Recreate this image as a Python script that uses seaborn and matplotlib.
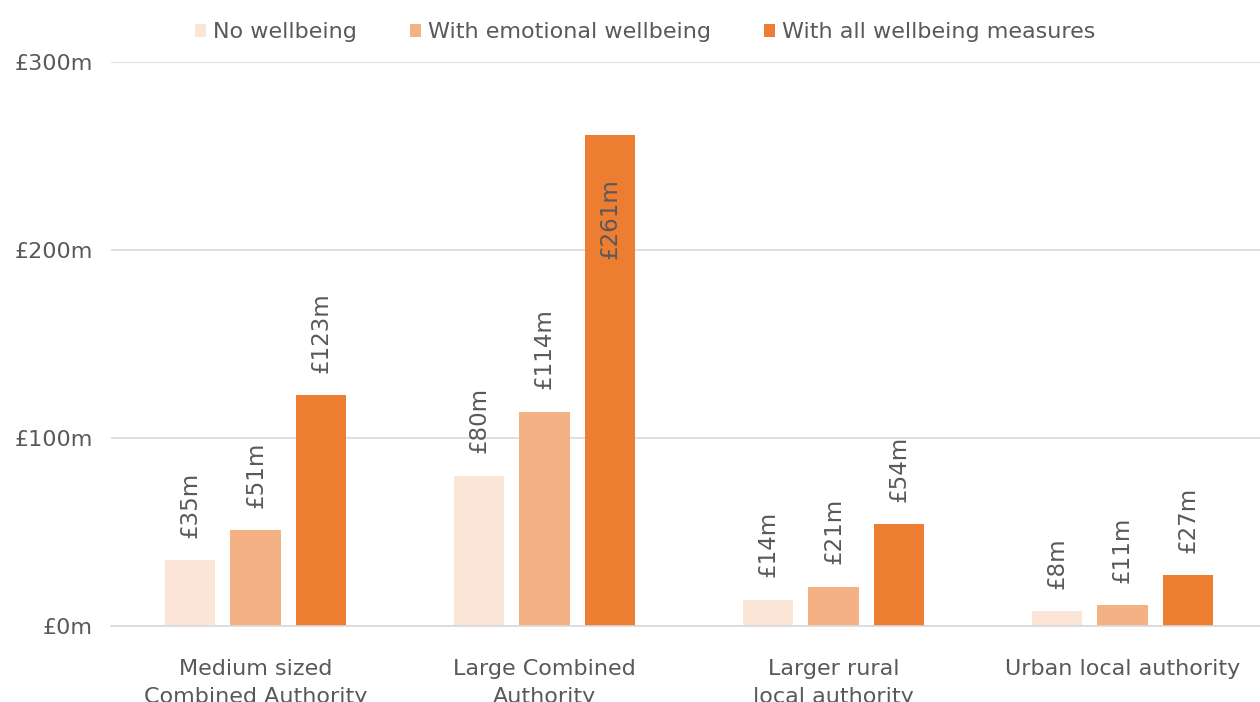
import matplotlib
matplotlib.use("Agg")
import matplotlib.pyplot as plt
import seaborn as sns
import pandas as pd

categories = ["Medium sized\nCombined Authority", "Large Combined\nAuthority",
              "Larger rural\nlocal authority", "Urban local authority"]
series_names = ["No wellbeing", "With emotional wellbeing", "With all wellbeing measures"]
no_wellbeing = [35, 80, 14, 8]
emotional = [51, 114, 21, 11]
all_measures = [123, 261, 54, 27]
colors = ["#FBE5D6", "#F4B183", "#ED7D31"]
y_ticks = [0, 100, 200, 300]
y_ticklabels = ["£0m", "£100m", "£200m", "£300m"]

rows = []
for name, vals in zip(series_names, [no_wellbeing, emotional, all_measures]):
    for c, v in zip(categories, vals):
        rows.append({"category": c, "series": name, "value": v})
df = pd.DataFrame(rows)

sns.set_theme(style="white")
plt.rcParams["font.family"] = ["DejaVu Sans"]
gray = "#595959"

fig = plt.figure(figsize=(12.6, 7.02), dpi=100)
ax = fig.add_axes([111 / 1260, 76 / 702, 1156 / 1260, 564 / 702])

sns.barplot(data=df, x="category", y="value", hue="series", hue_order=series_names,
            order=categories, palette=colors, width=0.678, gap=0.23,
            errorbar=None, saturation=1, linewidth=0, ax=ax)

handles, labels = ax.get_legend_handles_labels()
if ax.get_legend() is not None:
    ax.get_legend().remove()

ax.set_ylim(0, 300)
ax.set_yticks(y_ticks)
ax.set_yticklabels(y_ticklabels)
ax.set_xlim(-0.5, len(categories) - 0.5)
ax.set_xlabel("")
ax.set_ylabel("")
ax.grid(axis="y", color="#D9D9D9", linewidth=1.2)
ax.set_axisbelow(True)
for s in ["top", "right", "left"]:
    ax.spines[s].set_visible(False)
ax.spines["bottom"].set_color("#D9D9D9")
ax.spines["bottom"].set_linewidth(1.2)
ax.tick_params(axis="y", length=0, pad=13, labelsize=16, labelcolor=gray)
ax.tick_params(axis="x", length=0, pad=24, labelsize=16, labelcolor=gray)
for t in ax.get_xticklabels():
    t.set_linespacing(1.5)

ymax = ax.get_ylim()[1]
for cont in ax.containers:
    for bar in cont:
        h = bar.get_height()
        x = bar.get_x() + bar.get_width() / 2
        txt = f"£{h:.0f}m"
        if h > 0.8 * ymax:
            ax.annotate(txt, (x, h), xytext=(0, -31), textcoords="offset points",
                        rotation=90, ha="center", va="top", fontsize=16.5, color=gray)
        else:
            ax.annotate(txt, (x, h), xytext=(0, 16), textcoords="offset points",
                        rotation=90, ha="center", va="bottom", fontsize=16.5, color=gray)

fig.legend(handles, labels, loc="center", bbox_to_anchor=(0.512, 0.954), ncol=3,
           frameon=False, fontsize=16, labelcolor=gray, handlelength=0.5,
           handleheight=0.5, handletextpad=0.3, columnspacing=2.4)

fig.savefig("out.png", dpi=100)
